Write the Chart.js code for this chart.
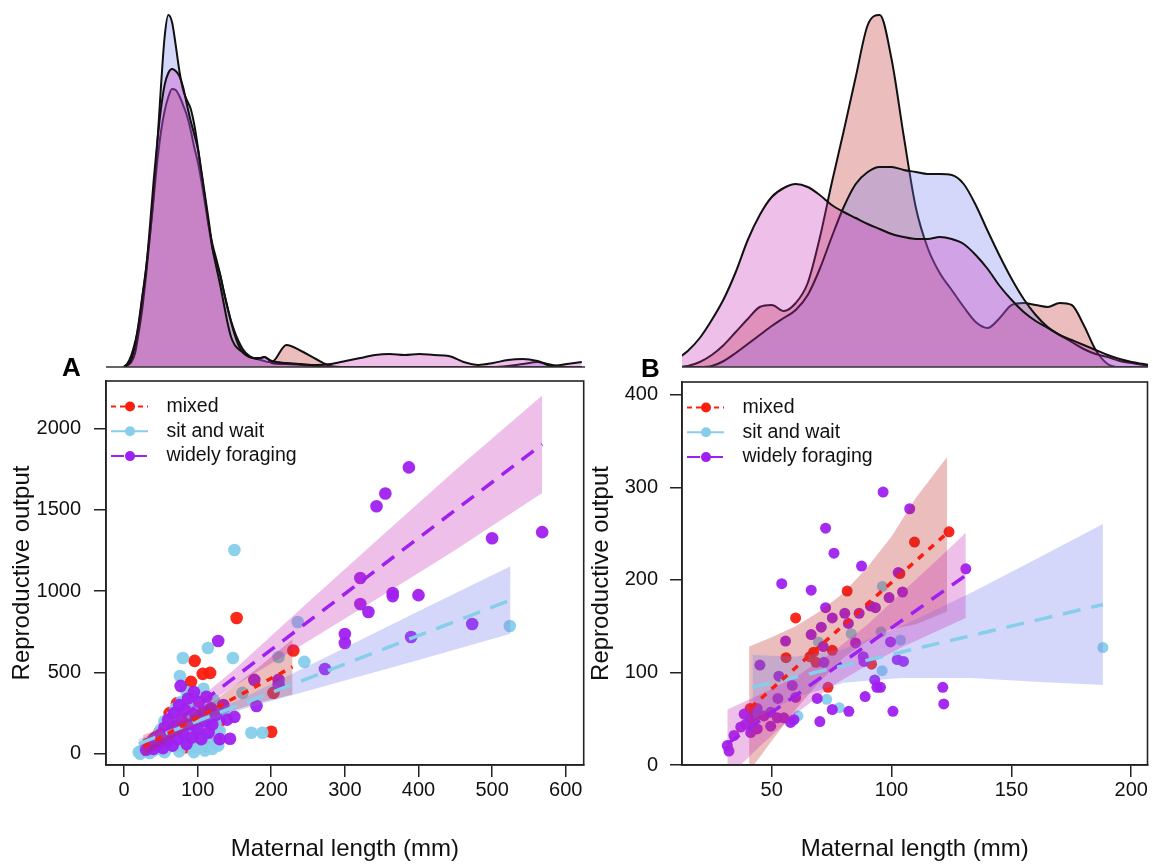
<!DOCTYPE html>
<html><head><meta charset="utf-8">
<script src="https://cdn.jsdelivr.net/npm/chart.js@4.4.1/dist/chart.umd.min.js"></script>
<style>
html,body{margin:0;padding:0;background:#fff;}
#wrap{position:relative;width:1153px;height:865px;overflow:hidden;background:#fff;}
canvas{position:absolute;}
</style></head><body>
<div id="wrap">
<canvas id="densA" width="479" height="370" style="left:106px;top:0;width:479px;height:370px"></canvas>
<canvas id="densB" width="466" height="370" style="left:682px;top:0;width:466px;height:370px"></canvas>
<canvas id="scatA" width="590" height="525" style="left:0;top:340px;width:590px;height:525px"></canvas>
<canvas id="scatB" width="573" height="525" style="left:580px;top:340px;width:573px;height:525px"></canvas>
</div>
<script>
// ---------- categories / styling ----------
const groups = ['mixed', 'sit and wait', 'widely foraging'];
const pointColors = ['rgba(250,30,15,0.95)', 'rgba(135,206,235,0.95)', 'rgba(160,32,240,0.95)'];
const lineColors = ['rgb(250,30,15)', 'rgb(135,206,235)', 'rgb(160,32,240)'];
const fillColors = ['rgba(188,35,35,0.30)', 'rgba(115,122,238,0.30)', 'rgba(198,42,182,0.30)'];
const fitDash = [[7, 7], [18, 11], [15, 10]];
const legendDash = [[5, 4], [], [13, 10]];
const pointOrder = [5, 4, 3];      // higher = drawn earlier
const layerOrder = [0.3, 0.2, 0.1]; // mixed at bottom, widely on top

// ---------- tick labels ----------
const aXTicks = [0, 100, 200, 300, 400, 500, 600];
const aYTicks = [0, 500, 1000, 1500, 2000];
const bXTicks = [50, 100, 150, 200];
const bYTicks = [0, 100, 200, 300, 400];

// ---------- Panel A points [maternal length, reproductive output] ----------
const aMixedPts = [[28,30],[32,60],[36,20],[40,90],[44,50],[48,130],[52,75],[56,180],[58,40],[62,250],[65,110],[68,60],[70,200],[72,310],[75,150],[78,90],[80,260],[83,40],[85,180],[88,120],[90,350],[91,442],[93,230],[95,70],[96,571],[98,160],[100,290],[102,110],[105,210],[107,491],[110,50],[112,170],[117,497],[120,260],[125,90],[130,200],[153,834],[200,135],[203,374],[230,635]];
const aSitPts = [[20,10],[22,0],[25,20],[28,35],[30,15],[33,50],[35,30],[35,5],[38,60],[40,20],[42,80],[45,45],[45,110],[48,70],[50,30],[50,150],[52,95],[55,55],[55,200],[55,10],[58,120],[60,40],[60,170],[62,85],[65,230],[65,60],[68,140],[70,100],[70,280],[72,45],[75,190],[75,70],[75,15],[76,478],[78,320],[78,130],[80,589],[80,240],[82,90],[85,160],[85,380],[88,60],[88,300],[90,210],[92,120],[95,250],[95,40],[95,10],[98,350],[100,180],[100,80],[100,40],[103,300],[105,130],[108,400],[110,220],[110,20],[112,60],[114,650],[115,160],[118,280],[120,100],[120,30],[122,330],[125,200],[126,145],[128,50],[130,140],[135,260],[148,589],[150,1252],[161,374],[173,129],[188,129],[210,595],[236,810],[245,565],[524,785]];
const aWidelyPts = [[30,25],[34,45],[38,70],[40,30],[43,100],[46,55],[50,120],[53,35],[55,160],[58,80],[60,210],[63,130],[66,50],[68,250],[70,170],[73,90],[75,300],[77,417],[78,210],[80,130],[83,270],[85,60],[87,340],[90,180],[92,100],[95,380],[97,240],[100,150],[102,320],[105,90],[108,260],[110,200],[112,350],[115,130],[118,280],[120,180],[125,240],[128,693],[130,90],[135,300],[140,210],[144,92],[150,227],[177,454],[180,294],[210,454],[210,423],[273,521],[300,736],[300,681],[321,1080],[321,920],[332,871],[343,1521],[355,1600],[365,988],[365,969],[387,1760],[390,718],[400,975],[473,798],[500,1325],[568,1362]];

// Panel A fitted lines (end points) and confidence bands
const aMixedFitX = [26, 229], aMixedFitY = [43, 534];
const aSitFitX = [20, 525], aSitFitY = [61, 945];
const aWidelyFitX = [26, 568], aWidelyFitY = [43, 1902];
const aMixedBandX = [26, 60, 90, 130, 180, 229];
const aMixedBandLo = [-15, 80, 160, 240, 311, 364];
const aMixedBandHi = [115, 170, 236, 350, 521, 704];
const aSitBandX = [20, 90, 171, 300, 400, 525];
const aSitBandLo = [31, 168, 288, 451, 576, 737];
const aSitBandHi = [91, 199, 362, 651, 876, 1153];
const aWidelyBandX = [26, 90, 150, 250, 350, 450, 568];
const aWidelyBandLo = [3, 232, 418, 691, 969, 1252, 1602];
const aWidelyBandHi = [83, 293, 518, 931, 1339, 1742, 2202];

// ---------- Panel B points ----------
const bMixedPts = [[41,61],[56,116],[60,159],[66,117],[67.5,122],[68.5,111],[73.5,84],[75.3,124],[81.5,188],[91.7,109],[103.5,207],[109.6,241],[124,252]];
const bSitPts = [[42,42],[61,53],[69.5,133],[73,71],[78.2,62],[83.2,142],[95.6,144],[96.2,193],[96.1,102],[103.75,135],[188.2,127]];
const bWidelyPts = [[96.5,295],[107.6,277],[72.5,256],[76,229],[87.5,215],[54.2,196],[66.5,189],[102.8,208],[104.6,187],[99,181],[72.5,170],[75.3,159],[80.5,164],[86.5,164],[91.2,172],[93.3,170],[82,153],[70.7,149],[66.5,141],[55.8,134],[85,132],[99.6,133],[71.5,128],[88.2,117],[88.5,112],[102.4,114],[105,112],[45.1,108],[71.8,111],[53,96],[58.6,86],[60,73],[52.6,72],[93,92],[93.9,84],[95.4,84],[89,74],[69,72],[75.3,60],[82.2,58],[100.6,58],[70.1,47],[121.4,84],[121.8,66],[131,212],[59.3,49],[38.5,55],[41.25,50],[37.1,41],[44,61],[46.8,53],[49.6,57],[52.4,51],[41.25,35],[44,39],[49.6,42],[55.1,51],[57.9,46],[31.5,21],[32.2,15],[34.3,32],[39.2,44],[43.3,53]];

const bMixedFitX = [41.25, 123.75], bMixedFitY = [62, 252];
const bSitFitX = [42, 188.2], bSitFitY = [84, 173.5];
const bWidelyFitX = [31.5, 131], bWidelyFitY = [23, 205];
const bMixedBandX = [40.6, 50, 60, 70, 80, 90, 100, 110, 123.2];
const bMixedBandLo = [-7, 26, 60, 90, 116, 134, 147, 152, 166];
const bMixedBandHi = [128, 138, 150, 166, 186, 214, 247, 288, 333];
const bSitBandX = [42, 60, 80, 104, 133, 160, 188.2];
const bSitBandLo = [49, 73, 89, 94, 94, 90, 86.5];
const bSitBandHi = [119, 117, 125, 150, 186, 222, 260.5];
const bWidelyBandX = [31.5, 45, 60, 75, 90, 105, 120, 131];
const bWidelyBandLo = [-14, 20, 55, 85, 108, 128, 146, 159];
const bWidelyBandHi = [60, 76, 95, 121, 152, 188, 224, 251];

// ---------- density curves (relative density, arbitrary units) ----------
const densAx = [0,5,10,15,20,25,30,35,40,45,50,55,60,65,70,75,80,85,90,95,100,105,110,115,120,125,130,135,140,145,150,155,160,165,170,175,180,185,190,195,200,220,240,260,280,300,320,340,360,380,400,420,440,460,480,500,520,540,560,580,600,620];
const densAMixed = [0,4,12,25,42,70,100,132,168,205,235,256,270,278,277,271,262,252,238,220,205,185,162,140,122,108,93,76,60,46,35,26,19,14,11,9,8,7,6,5,5,22,16,8,1,0,0,0,0,0,0,0,0,0,0,0,0,0,0,0,0,0];
const densASit = [1,2,5,14,35,60,93,130,170,222,280,330,352,345,322,296,277,267,259,243,220,193,167,140,118,105,93,76,60,45,32,22,16,12,10,9,9,9,10,8,4,3,2,1,0,0,0,0,0,0,0,0,0,0,0,0,1,3,5,2,0,0];
const densAWidely = [0,2,8,22,45,72,98,140,185,225,258,282,294,298,296,291,280,263,247,233,218,195,170,145,118,100,83,64,45,30,22,18,15,12,10,9,8,9,10,8,6,4,3,2,3,6,9,12,13,12,13,12,11,5,2,4,7,8,6,1,3,5];

const densBx = [10,15,20,25,30,35,40,45,50,55,60,65,70,75,80,85,90,95,100,105,110,115,120,125,130,135,140,145,150,155,160,165,170,175,180,185,190,195,200,205,210];
const densBMixed = [0,1,5,12,22,35,48,60,62,56,64,84,129,184,236,290,342,352,307,231,160,119,94,77,60,45,39,49,62,64,62,60,64,62,42,17,3,0,0,0,0];
const densBSit = [0,0,0,1,6,14,23,32,41,49,57,72,98,130,160,183,195,200,200,197,195,193,193,192,183,162,136,111,88,68,52,40,32,25,18,13,10,6,4,2,1];
const densBWidely = [7,16,29,47,68,95,127,152,170,179,183,180,172,162,155,149,143,138,133,130,128,128,130,128,123,112,98,81,67,55,46,39,32,27,22,17,12,8,5,3,1];

// ---------- helpers ----------
Chart.defaults.font.family = '"Liberation Sans", Arial, Helvetica, sans-serif';
Chart.defaults.color = '#111';
const xy = (xs, ys) => xs.map((x, i) => ({x: x, y: ys[i]}));
const pairs = (p) => p.map(([x, y]) => ({x: x, y: y}));

const framePlugin = {
  id: 'frame',
  afterDraw(chart) {
    const a = chart.chartArea, ctx = chart.ctx;
    ctx.save(); ctx.strokeStyle = '#222'; ctx.lineWidth = 1.6;
    ctx.strokeRect(a.left, a.top, a.right - a.left, a.bottom - a.top);
    ctx.restore();
  }
};
const legendPlugin = {
  id: 'cornerLegend',
  afterDraw(chart) {
    const a = chart.chartArea, ctx = chart.ctx;
    groups.forEach((g, i) => {
      const y = a.top + 25.5 + i * 24.8;
      ctx.save();
      ctx.strokeStyle = lineColors[i]; ctx.lineWidth = 2; ctx.setLineDash(legendDash[i]);
      ctx.beginPath(); ctx.moveTo(a.left + 5, y); ctx.lineTo(a.left + 42, y); ctx.stroke();
      ctx.setLineDash([]);
      ctx.fillStyle = lineColors[i];
      ctx.beginPath(); ctx.arc(a.left + 24, y, 5, 0, Math.PI * 2); ctx.fill();
      ctx.fillStyle = '#111'; ctx.font = '19.5px "Liberation Sans", Arial, sans-serif';
      ctx.textBaseline = 'middle'; ctx.textAlign = 'left';
      ctx.fillText(g, a.left + 60.5, y);
      ctx.restore();
    });
  }
};
const letterPlugin = {
  id: 'panelLetter',
  afterDraw(chart, args, opts) {
    const a = chart.chartArea, ctx = chart.ctx;
    ctx.save(); ctx.fillStyle = '#000'; ctx.font = 'bold 26px "Liberation Sans", Arial, sans-serif';
    ctx.textBaseline = 'alphabetic'; ctx.textAlign = 'left';
    ctx.fillText(opts.text, a.left + opts.dx, a.top + opts.dy);
    ctx.restore();
  }
};
const baselinePlugin = {
  id: 'baseline',
  afterDatasetsDraw(chart) {
    const a = chart.chartArea, ctx = chart.ctx;
    ctx.save(); ctx.strokeStyle = '#333'; ctx.lineWidth = 1.6;
    ctx.beginPath(); ctx.moveTo(a.left, a.bottom); ctx.lineTo(a.right, a.bottom); ctx.stroke();
    ctx.restore();
  }
};

function makeScatter(id, P) {
  const ds = [];
  P.pts.forEach((p, i) => ds.push({
    label: groups[i], data: pairs(p), showLine: false, pointRadius: P.r, pointHoverRadius: P.r,
    pointBackgroundColor: pointColors[i], pointBorderWidth: 0, pointBorderColor: 'transparent', order: pointOrder[i]
  }));
  P.bandX.forEach((bx, i) => {
    ds.push({data: xy(bx, P.bandLo[i]), showLine: true, borderColor: 'transparent', borderWidth: 0, pointRadius: 0, fill: false, order: 2 + layerOrder[i]});
    ds.push({data: xy(bx, P.bandHi[i]), showLine: true, borderColor: 'transparent', borderWidth: 0, pointRadius: 0, fill: '-1', backgroundColor: fillColors[i], order: 2 + layerOrder[i]});
  });
  P.fitX.forEach((fx, i) => ds.push({
    data: xy(fx, P.fitY[i]), showLine: true, borderColor: lineColors[i], borderWidth: 3.5,
    borderDash: fitDash[i], borderCapStyle: 'butt', pointRadius: 0, fill: false, order: 1
  }));
  return new Chart(document.getElementById(id), {
    type: 'line',
    data: {datasets: ds},
    options: {
      responsive: false, animation: false, devicePixelRatio: 1, events: [],
      layout: {padding: {left: 0, right: P.padR, top: P.padT, bottom: 0}},
      plugins: {legend: {display: false}, tooltip: {enabled: false}, panelLetter: {text: P.letter, dx: P.letterDx, dy: -5}},
      scales: {
        x: {
          type: 'linear', min: P.xMin, max: P.xMax,
          afterFit: s => { s.height = 100; },
          afterBuildTicks: s => { s.ticks = P.xTicks.map(v => ({value: v})); },
          ticks: {font: {size: 20}, color: '#111', padding: 1, maxRotation: 0, autoSkip: false, callback: v => String(v)},
          grid: {display: true, drawOnChartArea: false, drawTicks: true, tickLength: 12, color: '#222', lineWidth: 1.5},
          border: {display: true, color: '#222', width: 1.5},
          title: {display: true, text: 'Maternal length (mm)', font: {size: 24}, color: '#111', padding: {top: 0, bottom: 1}}
        },
        y: {
          type: 'linear', min: P.yMin, max: P.yMax,
          afterFit: s => { s.width = P.yW; },
          afterBuildTicks: s => { s.ticks = P.yTicks.map(v => ({value: v})); },
          ticks: {font: {size: 20}, color: '#111', padding: P.yPad, autoSkip: false, callback: v => String(v)},
          grid: {display: true, drawOnChartArea: false, drawTicks: true, tickLength: 12, color: '#222', lineWidth: 1.5},
          border: {display: true, color: '#222', width: 1.5},
          title: {display: true, text: 'Reproductive output', font: {size: 24}, color: '#111', padding: {top: P.titlePad, bottom: 0}}
        }
      }
    },
    plugins: [framePlugin, legendPlugin, letterPlugin]
  });
}

function makeDensity(id, xs, series, xMin, xMax) {
  return new Chart(document.getElementById(id), {
    type: 'line',
    data: {datasets: series.map((vals, i) => ({
      label: groups[i], data: xy(xs, vals), fill: 'origin', backgroundColor: fillColors[i],
      borderColor: '#111', borderWidth: 2, pointRadius: 0, cubicInterpolationMode: 'monotone',
      order: 1 + layerOrder[i]
    }))},
    options: {
      responsive: false, animation: false, devicePixelRatio: 1, events: [],
      layout: {padding: {left: 0, right: 0, top: 0, bottom: 3}},
      plugins: {legend: {display: false}, tooltip: {enabled: false}},
      scales: {
        x: {type: 'linear', display: false, min: xMin, max: xMax},
        y: {type: 'linear', display: false, min: 0, max: 367}
      }
    },
    plugins: [baselinePlugin]
  });
}

makeDensity('densA', densAx, [densAMixed, densASit, densAWidely], -24.4, 624.4);
makeDensity('densB', densBx, [densBMixed, densBSit, densBWidely], 12.6, 206.8);

makeScatter('scatA', {
  pts: [aMixedPts, aSitPts, aWidelyPts], r: 6.3,
  bandX: [aMixedBandX, aSitBandX, aWidelyBandX], bandLo: [aMixedBandLo, aSitBandLo, aWidelyBandLo], bandHi: [aMixedBandHi, aSitBandHi, aWidelyBandHi],
  fitX: [aMixedFitX, aSitFitX, aWidelyFitX], fitY: [aMixedFitY, aSitFitY, aWidelyFitY],
  xMin: -24.4, xMax: 624.4, yMin: -69, yMax: 2291, xTicks: aXTicks, yTicks: aYTicks,
  padR: 5, padT: 41, yW: 106, yPad: 13, titlePad: 7.6, letter: 'A', letterDx: -44
});
makeScatter('scatB', {
  pts: [bMixedPts, bSitPts, bWidelyPts], r: 5.5,
  bandX: [bMixedBandX, bSitBandX, bWidelyBandX], bandLo: [bMixedBandLo, bSitBandLo, bWidelyBandLo], bandHi: [bMixedBandHi, bSitBandHi, bWidelyBandHi],
  fitX: [bMixedFitX, bSitFitX, bWidelyFitX], fitY: [bMixedFitY, bSitFitY, bWidelyFitY],
  xMin: 12.6, xMax: 206.8, yMin: 0, yMax: 414, xTicks: bXTicks, yTicks: bYTicks,
  padR: 5, padT: 42, yW: 102, yPad: 12, titlePad: 6.6, letter: 'B', letterDx: -41
});
</script>
</body></html>
